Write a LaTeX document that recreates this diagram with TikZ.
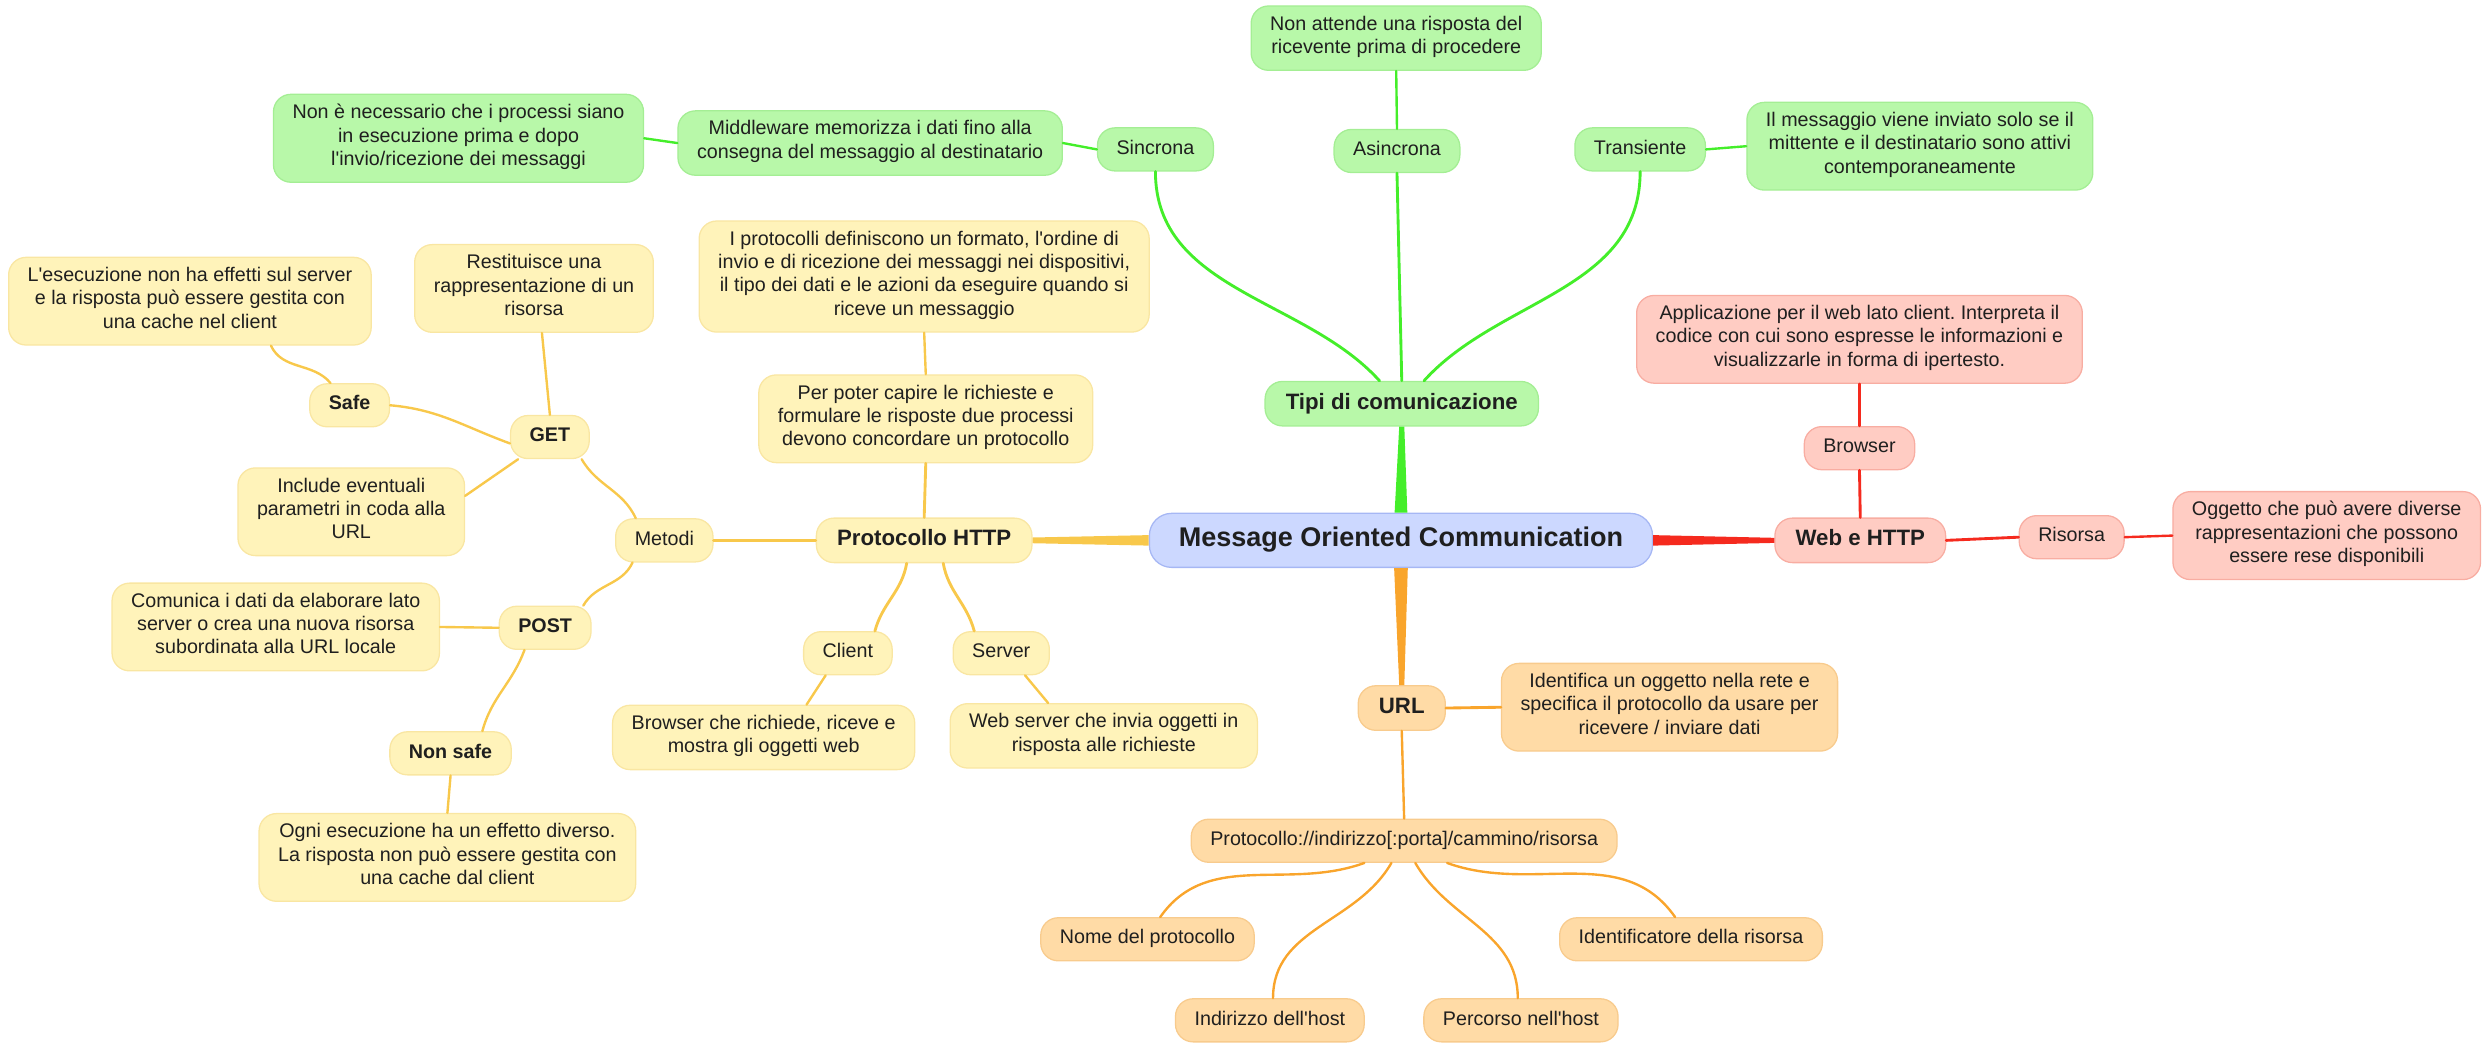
\documentclass[tikz,border=0pt]{standalone}
\usepackage{fontspec}
\setmainfont{Liberation Sans}[Ligatures=TeXOff]
\frenchspacing

\definecolor{ink}{HTML}{1F1F1F}
\definecolor{bfill}{HTML}{CCD8FF}
\definecolor{bedge}{HTML}{A6B7F4}
\definecolor{gfill}{HTML}{B8F8A9}
\definecolor{gedge}{HTML}{A4EE94}
\definecolor{gline}{HTML}{44EE2A}
\definecolor{rfill}{HTML}{FFCCC3}
\definecolor{redge}{HTML}{F8ADA2}
\definecolor{rline}{HTML}{F52A1E}
\definecolor{yfill}{HTML}{FFF3BA}
\definecolor{yedge}{HTML}{F9E6A2}
\definecolor{yline}{HTML}{F8C84B}
\definecolor{ofill}{HTML}{FFDBA6}
\definecolor{oedge}{HTML}{F8CB8D}
\definecolor{oline}{HTML}{F9A52C}

\begin{document}
\begin{tikzpicture}[x=1pt,y=1pt,line cap=round,line join=round,
    font=\fontsize{12.4}{14.7}\selectfont,
    box/.style={draw,rounded corners=11pt,align=center,text=ink,line width=0.8pt,
      inner xsep=12pt,inner ysep=6.2pt,
      execute at begin node=\strut,execute at end node=\strut},
    gbox/.style={box,fill=gfill,draw=gedge},
    rbox/.style={box,fill=rfill,draw=redge},
    ybox/.style={box,fill=yfill,draw=yedge},
    obox/.style={box,fill=ofill,draw=oedge},
    strong/.style={font=\fontsize{12.4}{14.7}\selectfont\bfseries},
    topic/.style={font=\fontsize{14}{16.8}\selectfont\bfseries,inner xsep=13pt,inner ysep=5.6pt},
    link/.style={line width=1.8pt},
    twig/.style={line width=1.5pt}]
  \useasboundingbox (0,0) rectangle (1568,-658.8);

  % centre
  \node[box,fill=bfill,draw=bedge,rounded corners=14pt,inner xsep=18.5pt,inner ysep=6.8pt,
    font=\fontsize{17}{20.4}\selectfont\bfseries] (moc) at (881.5,-340) {Message Oriented Communication};

  % tipi di comunicazione
  \node[gbox,topic] (tipi) at (882,-254) {Tipi di comunicazione};
  \node[gbox] (sinc) at (727,-94) {Sincrona};
  \node[gbox] (asinc) at (879,-95) {Asincrona};
  \node[gbox] (trans) at (1032,-94) {Transiente};
  \node[gbox] (midw) at (547.5,-90) {Middleware memorizza i dati fino alla\\consegna del messaggio al destinatario};
  \node[gbox] (nonnec) at (288.5,-87) {Non è necessario che i processi siano\\in esecuzione prima e dopo\\l'invio/ricezione dei messaggi};
  \node[gbox] (nonatt) at (878.5,-24) {Non attende una risposta del\\ricevente prima di procedere};
  \node[gbox] (ilmess) at (1208,-92) {Il messaggio viene inviato solo se il\\mittente e il destinatario sono attivi\\contemporaneamente};

  % web e http
  \node[rbox,topic] (web) at (1170.5,-340) {Web e HTTP};
  \node[rbox] (browser) at (1170,-282) {Browser};
  \node[rbox] (applic) at (1170,-213.5) {Applicazione per il web lato client. Interpreta il\\codice con cui sono espresse le informazioni e\\visualizzarle in forma di ipertesto.};
  \node[rbox] (risorsa) at (1303.5,-338) {Risorsa};
  \node[rbox] (oggetto) at (1464,-337) {Oggetto che può avere diverse\\rappresentazioni che possono\\essere rese disponibili};

  % protocollo http
  \node[ybox,topic] (http) at (581.5,-340) {Protocollo HTTP};
  \node[ybox] (perpot) at (582.5,-263.5) {Per poter capire le richieste e\\formulare le risposte due processi\\devono concordare un protocollo};
  \node[ybox] (iprot) at (581.5,-174) {I protocolli definiscono un formato, l'ordine di\\invio e di ricezione dei messaggi nei dispositivi,\\il tipo dei dati e le azioni da eseguire quando si\\riceve un messaggio};
  \node[ybox] (client) at (533.5,-411) {Client};
  \node[ybox] (server) at (630,-411) {Server};
  \node[ybox] (brow) at (480.5,-464) {Browser che richiede, riceve e\\mostra gli oggetti web};
  \node[ybox] (websrv) at (694.5,-463) {Web server che invia oggetti in\\risposta alle richieste};
  \node[ybox] (metodi) at (418,-340) {Metodi};
  \node[ybox,strong] (get) at (346,-275) {GET};
  \node[ybox,strong] (safe) at (220,-255) {Safe};
  \node[ybox] (lese) at (119.5,-189.5) {L'esecuzione non ha effetti sul server\\e la risposta può essere gestita con\\una cache nel client};
  \node[ybox] (rest) at (336,-181.5) {Restituisce una\\rappresentazione di un\\risorsa};
  \node[ybox] (incl) at (221,-322) {Include eventuali\\parametri in coda alla\\URL};
  \node[ybox,strong] (post) at (343,-395) {POST};
  \node[ybox] (comun) at (173.5,-394.5) {Comunica i dati da elaborare lato\\server o crea una nuova risorsa\\subordinata alla URL locale};
  \node[ybox,strong] (nonsafe) at (283.5,-474) {Non safe};
  \node[ybox] (ogni) at (281.5,-539.5) {Ogni esecuzione ha un effetto diverso.\\La risposta non può essere gestita con\\una cache dal client};

  % url
  \node[obox,topic] (url) at (882,-445.5) {URL};
  \node[obox] (ident) at (1050.5,-445) {Identifica un oggetto nella rete e\\specifica il protocollo da usare per\\ricevere / inviare dati};
  \node[obox] (pcl) at (883.5,-529) {Protocollo://indirizzo[:porta]/cammino/risorsa};
  \node[obox] (nome) at (722,-591) {Nome del protocollo};
  \node[obox] (indir) at (799,-642) {Indirizzo dell'host};
  \node[obox] (perc) at (957,-642) {Percorso nell'host};
  \node[obox] (identif) at (1064,-591) {Identificatore della risorsa};

  % rami principali
  \fill[gline] ([xshift=-4pt]moc.north) -- ([xshift=4pt]moc.north) -- ([xshift=1.6pt]tipi.south) -- ([xshift=-1.6pt]tipi.south) -- cycle;
  \fill[rline] ([yshift=-3.3pt]moc.east) -- ([yshift=3.3pt]moc.east) -- ([yshift=1.6pt]web.west) -- ([yshift=-1.6pt]web.west) -- cycle;
  \fill[yline] ([yshift=-3.3pt]moc.west) -- ([yshift=3.3pt]moc.west) -- ([yshift=1.8pt]http.east) -- ([yshift=-1.8pt]http.east) -- cycle;
  \fill[oline] ([xshift=-4.3pt]moc.south) -- ([xshift=4.3pt]moc.south) -- ([xshift=1.6pt]url.north) -- ([xshift=-1.6pt]url.north) -- cycle;

  \draw[link,gline] ([xshift=-14pt]tipi.north) .. controls +(132:70) and +(-90:75) .. (sinc.south);
  \draw[link,gline] (tipi.north) -- (asinc.south);
  \draw[link,gline] ([xshift=14pt]tipi.north) .. controls +(48:70) and +(-90:75) .. (trans.south);
  \draw[twig,gline] (asinc.north) -- (nonatt.south);
  \draw[twig,gline] (sinc.west) -- (midw.east);
  \draw[twig,gline] (midw.west) -- (nonnec.east);
  \draw[twig,gline] (trans.east) -- (ilmess.west);

  \draw[link,rline] (web.north) -- (browser.south);
  \draw[twig,rline] (browser.north) -- (applic.south);
  \draw[link,rline] (web.east) -- (risorsa.west);
  \draw[twig,rline] (risorsa.east) -- (oggetto.west);

  \draw[link,yline] (http.west) -- (metodi.east);
  \draw[link,yline] (http.north) -- (perpot.south);
  \draw[twig,yline] (perpot.north) -- (iprot.south);
  \draw[link,yline] ([xshift=-11pt]http.south) to[out=-100,in=75] ([xshift=17pt]client.north);
  \draw[link,yline] ([xshift=12pt]http.south) to[out=-80,in=105] ([xshift=-17pt]server.north);
  \draw[twig,yline] ([xshift=-14pt]client.south) -- ([xshift=27pt]brow.north);
  \draw[twig,yline] ([xshift=15pt]server.south) -- ([xshift=-35pt]websrv.north);
  \draw[twig,yline] ([xshift=-18pt]metodi.north) to[out=115,in=-60] ([xshift=20pt]get.south);
  \draw[twig,yline] ([xshift=-20pt]metodi.south) to[out=-115,in=60] ([xshift=24pt]post.north);
  \draw[twig,yline] ([yshift=-4pt]get.west) to[out=160,in=-5] (safe.east);
  \draw[twig,yline] ([xshift=-12pt]safe.north) to[out=130,in=-65] ([xshift=51pt]lese.south);
  \draw[twig,yline] (get.north) -- ([xshift=5pt]rest.south);
  \draw[twig,yline] ([xshift=-20pt]get.south) -- ([yshift=10pt]incl.east);
  \draw[twig,yline] (post.west) -- (comun.east);
  \draw[twig,yline] ([xshift=-13pt]post.south) to[out=-110,in=75] ([xshift=20pt]nonsafe.north);
  \draw[twig,yline] (nonsafe.south) -- (ogni.north);

  \draw[link,oline] (url.east) -- (ident.west);
  \draw[twig,oline] (url.south) -- (pcl.north);
  \draw[twig,oline] ([xshift=-25pt]pcl.south) to[out=-160,in=55] ([xshift=8pt]nome.north);
  \draw[twig,oline] ([xshift=-8pt]pcl.south) to[out=-120,in=90] ([xshift=2pt]indir.north);
  \draw[twig,oline] ([xshift=7pt]pcl.south) to[out=-60,in=90] ([xshift=-2pt]perc.north);
  \draw[twig,oline] ([xshift=27pt]pcl.south) to[out=-20,in=125] ([xshift=-10pt]identif.north);
\end{tikzpicture}
\end{document}
